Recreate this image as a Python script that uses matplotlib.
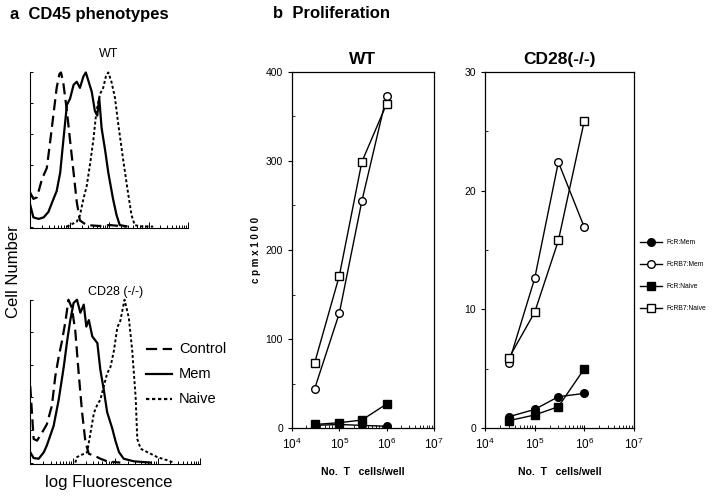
import matplotlib.pyplot as plt
import numpy as np
from matplotlib.ticker import LogLocator, NullFormatter, MultipleLocator

plt.rcParams['font.family'] = ['Liberation Sans', 'DejaVu Sans']

# ---- panel a: CD45 histograms (x = log10 fluorescence, y = % of max) ----
wt_ctrl_x = [0, 0.08, 0.17, 0.30, 0.42, 0.50, 0.59, 0.67, 0.74, 0.78, 0.84, 0.93, 1.01, 1.10, 1.18, 1.26, 1.43, 1.76, 2.02, 2.44]
wt_ctrl_y = [22, 18, 19, 31, 38, 54, 73, 90, 99, 100, 93, 75, 56, 35, 16, 4, 1, 0.4, 1, 0]
wt_mem_x = [0, 0.08, 0.21, 0.34, 0.46, 0.59, 0.67, 0.76, 0.84, 0.93, 1.01, 1.10, 1.18, 1.26, 1.35, 1.41, 1.47, 1.56, 1.64, 1.70, 1.75, 1.81, 1.90, 1.98, 2.10, 2.19, 2.27, 2.44]
wt_mem_y = [14, 6, 5, 6, 9.5, 18, 23, 35, 56, 79, 83, 92, 94, 90, 97.5, 100, 95, 87.5, 75, 72, 83.5, 64, 49.5, 35, 18, 7.4, 1, 0.2]
wt_naive_x = [0.93, 1.18, 1.26, 1.35, 1.43, 1.52, 1.60, 1.68, 1.77, 1.85, 1.92, 1.98, 2.06, 2.15, 2.23, 2.36, 2.48, 2.57, 2.65, 2.78, 3.12]
wt_naive_y = [0, 3.2, 7.4, 18, 26, 41, 56, 75, 86, 90, 97.5, 100, 94, 83.5, 67, 43, 22, 7.4, 1, 0.2, 0]

ko_ctrl_x = [0, 0.08, 0.16, 0.28, 0.39, 0.51, 0.59, 0.67, 0.75, 0.83, 0.90, 0.98, 1.06, 1.14, 1.22, 1.30, 1.38, 1.50, 1.65, 1.81, 2.12]
ko_ctrl_y = [47, 14.5, 13.5, 18.5, 23.5, 35, 53, 65, 75, 87, 100, 95, 81, 55, 31, 12.5, 5.4, 4.4, 2.4, 0.8, 0]
ko_mem_x = [0, 0.08, 0.20, 0.32, 0.39, 0.47, 0.55, 0.67, 0.79, 0.87, 0.94, 1.02, 1.10, 1.18, 1.26, 1.32, 1.38, 1.46, 1.58, 1.65, 1.73, 1.81, 1.93, 2.01, 2.09, 2.20, 2.44, 2.84]
ko_mem_y = [6.4, 2.8, 2.4, 6.4, 10.5, 16.5, 22.5, 38.6, 59, 75, 87, 98, 100, 92, 97, 83.5, 87.5, 77.5, 73.4, 57, 45, 31, 21, 13, 6.4, 2.4, 0.8, 0]
ko_naive_x = [1.06, 1.10, 1.34, 1.50, 1.58, 1.65, 1.73, 1.81, 1.89, 1.97, 2.05, 2.12, 2.22, 2.32, 2.40, 2.48, 2.52, 2.60, 2.76, 2.99, 3.23, 3.38]
ko_naive_y = [0, 3.4, 6.4, 30.6, 35.6, 38.6, 46.7, 54.7, 58.8, 68.8, 83, 87, 100, 89, 69, 40.6, 14.5, 8.5, 6.4, 3.4, 1.4, 0]

# ---- panel b: proliferation (cpm x 1000) ----
cells = [3e4, 1e5, 3e5, 1e6]
labels_b = ["FcR:Mem", "FcRB7:Mem", "FcR:Naive", "FcRB7:Naive"]
wt_fcr_mem = [3, 4, 3, 2]
wt_fcrb7_mem = [44, 129, 255, 373]
wt_fcr_naive = [4, 6, 9, 27]
wt_fcrb7_naive = [73, 171, 299, 364]
ko_fcr_mem = [0.95, 1.57, 2.64, 2.92]
ko_fcrb7_mem = [5.45, 12.6, 22.4, 16.9]
ko_fcr_naive = [0.62, 1.1, 1.8, 5.0]
ko_fcrb7_naive = [5.87, 9.75, 15.8, 25.9]

fig = plt.figure(figsize=(7.2, 4.96), dpi=100)

DASH = (0, (5, 2.5))
DOT = (0, (1.5, 1.2))


def hist_panel(rect, ctrl, mem, naive, title, pad):
    ax = fig.add_axes(rect)
    ax.plot(10 ** np.array(ctrl[0]), ctrl[1], color='black', lw=1.6, ls=DASH)
    ax.plot(10 ** np.array(mem[0]), mem[1], color='black', lw=1.6)
    ax.plot(10 ** np.array(naive[0]), naive[1], color='black', lw=1.4, ls=DOT)
    ax.set_xscale('log')
    ax.set_xlim(1, 1e4)
    ax.set_ylim(-1, 101)
    for s in ['top', 'right']:
        ax.spines[s].set_visible(False)
    ax.spines['left'].set_bounds(0, 100)
    ax.xaxis.set_major_locator(LogLocator(base=10, numticks=10))
    ax.xaxis.set_minor_locator(LogLocator(base=10, subs=np.arange(2, 10), numticks=10))
    ax.xaxis.set_major_formatter(NullFormatter())
    ax.xaxis.set_minor_formatter(NullFormatter())
    ax.yaxis.set_major_locator(MultipleLocator(20))
    ax.set_yticklabels([])
    ax.tick_params(axis='both', which='both', direction='in', length=2.5, width=0.7)
    ax.tick_params(axis='x', which='major', length=4)
    ax.set_title(title, fontsize=9, pad=pad)
    return ax


ax1 = hist_panel([0.042, 0.540, 0.219, 0.317],
                 (wt_ctrl_x, wt_ctrl_y), (wt_mem_x, wt_mem_y), (wt_naive_x, wt_naive_y), "WT", 10)
ax2 = hist_panel([0.042, 0.064, 0.236, 0.335],
                 (ko_ctrl_x, ko_ctrl_y), (ko_mem_x, ko_mem_y), (ko_naive_x, ko_naive_y), "CD28 (-/-)", 2)

# legend for histograms
for i, (lab, ls) in enumerate([("Control", DASH), ("Mem", '-'), ("Naive", DOT)]):
    y = 1 - (349 + 25 * i) / 496
    fig.add_artist(plt.Line2D([146 / 720, 172 / 720], [y, y], color='black', lw=1.6, ls=ls))
    fig.text(179 / 720, y, lab, fontsize=10.5, va='center', ha='left')

fig.text(10 / 720, 1 - 14 / 496, "a  CD45 phenotypes", fontsize=12, fontweight='bold', va='center')
fig.text(14 / 720, 1 - 272 / 496, "Cell Number", fontsize=12, rotation=90, va='center', ha='center')
fig.text(109 / 720, 1 - 483 / 496, "log Fluorescence", fontsize=12, va='center', ha='center')


def prolif_panel(rect, series, ymax, ystep, title):
    ax = fig.add_axes(rect)
    styles = [dict(marker='o', mfc='black'), dict(marker='o', mfc='white'),
              dict(marker='s', mfc='black'), dict(marker='s', mfc='white')]
    for (vals, lab), st in zip(series, styles):
        ax.plot(cells, vals, color='black', lw=1.0, ms=5.5, mec='black', mew=1.0, label=lab, **st)
    ax.set_xscale('log')
    ax.set_xlim(1e4, 1e7)
    ax.set_ylim(0, ymax)
    ax.yaxis.set_major_locator(MultipleLocator(ystep))
    ax.yaxis.set_minor_locator(MultipleLocator(ystep / 2))
    ax.xaxis.set_major_locator(LogLocator(base=10, numticks=10))
    ax.xaxis.set_minor_locator(LogLocator(base=10, subs=np.arange(2, 10), numticks=10))
    ax.xaxis.set_minor_formatter(NullFormatter())
    ax.tick_params(axis='both', which='major', direction='out', length=3, width=0.8, labelsize=7.5)
    ax.tick_params(axis='x', which='major', direction='inout', length=5, labelsize=8.5)
    ax.tick_params(axis='both', which='minor', direction='in', length=2.5, width=0.6)
    for s in ax.spines.values():
        s.set_linewidth(0.9)
    ax.set_title(title, fontsize=12.5, fontweight='bold', pad=6)
    cx = rect[0] + rect[2] / 2
    fig.text(cx, 1 - 472 / 496, "No.  T   cells/well", fontsize=7.5, fontweight='bold',
             ha='center', va='center')
    return ax


ax3 = prolif_panel([0.4056, 0.137, 0.197, 0.718],
                   [(wt_fcr_mem, labels_b[0]), (wt_fcrb7_mem, labels_b[1]),
                    (wt_fcr_naive, labels_b[2]), (wt_fcrb7_naive, labels_b[3])],
                   400, 100, "WT")
ax3.set_ylabel("c p m x 1 0 0 0", fontsize=7, fontweight='bold', labelpad=3)

ax4 = prolif_panel([0.6736, 0.137, 0.207, 0.718],
                   [(ko_fcr_mem, labels_b[0]), (ko_fcrb7_mem, labels_b[1]),
                    (ko_fcr_naive, labels_b[2]), (ko_fcrb7_naive, labels_b[3])],
                   30, 10, "CD28(-/-)")

ax4.legend(loc='center left', bbox_to_anchor=(1.02, 0.428), frameon=False,
           prop={'size': 4.9}, handlelength=3.3, handletextpad=0.6,
           markerscale=1.0, labelspacing=2.2, borderaxespad=0.0)

fig.text(273 / 720, 1 - 14 / 496, "b  Proliferation", fontsize=12, fontweight='bold', va='center')

plt.savefig("out.png", dpi=100)
